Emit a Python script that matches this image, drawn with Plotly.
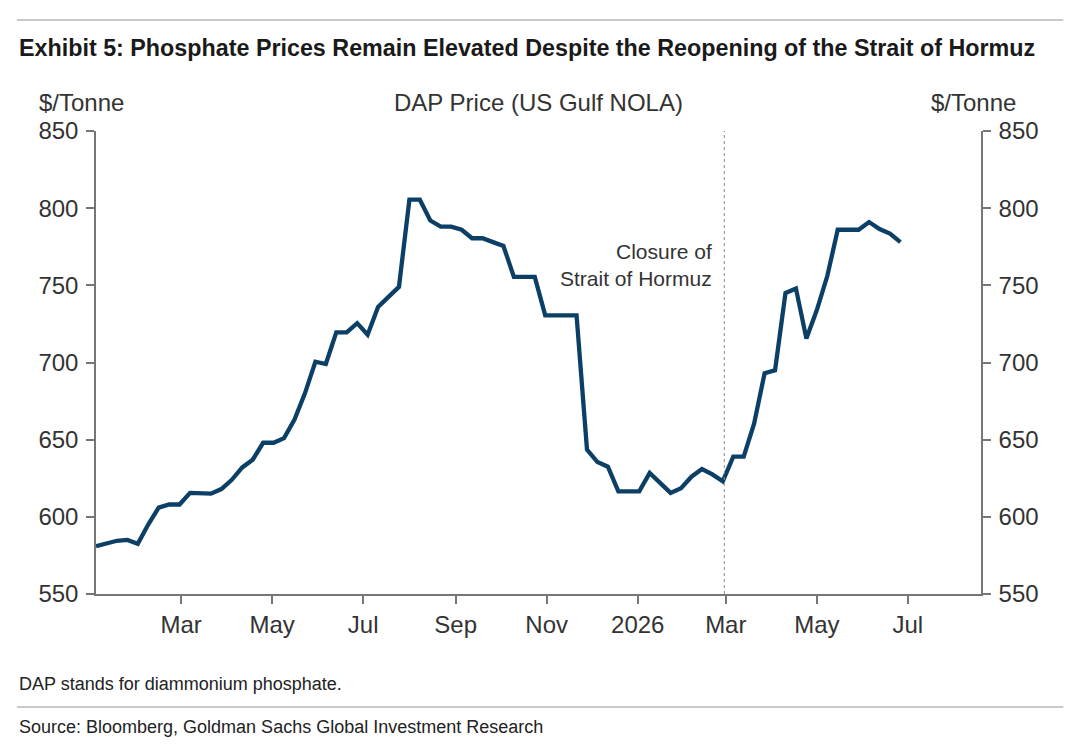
import pandas as pd
import plotly.graph_objects as go

# ---- data ----
start_date = "2025-01-03"
dap_price = [581, 583, 584.5, 585, 582.5, 595, 606, 608, 608, 615.5,
             615, 615, 618, 624, 632, 637, 648, 648, 651, 663,
             680, 700.5, 699, 719.5, 719.5, 725.5, 718, 736, 742.5, 749,
             805.5, 805.5, 792, 788, 788, 786, 780.5, 780.5, 778, 775.5,
             755.5, 755.5, 755.5, 730.5, 730.5, 730.5, 730.5, 643.5, 635.5, 632.5,
             616.5, 616.5, 616.5, 628.5, 621.5, 615.5, 618.5, 626, 631, 627.5,
             623, 639, 639, 660.5, 693, 695, 745, 748, 715.5, 734,
             756, 786, 786, 786, 791, 786.5, 783.5, 778]
dates = pd.date_range(start_date, periods=len(dap_price), freq="7D")

tick_dates = ["2025-03-01", "2025-05-01", "2025-07-01", "2025-09-01", "2025-11-01",
              "2026-01-01", "2026-03-01", "2026-05-01", "2026-07-01"]
tick_labels = ["Mar", "May", "Jul", "Sep", "Nov", "2026", "Mar", "May", "Jul"]
y_ticks = [550, 600, 650, 700, 750, 800, 850]
closure_date = "2026-02-28"
x_range = ["2025-01-03", "2026-08-19"]

title_text = "Exhibit 5: Phosphate Prices Remain Elevated Despite the Reopening of the Strait of Hormuz"
chart_title = "DAP Price (US Gulf NOLA)"
unit_label = "$/Tonne"
note_text = "DAP stands for diammonium phosphate."
source_text = "Source: Bloomberg, Goldman Sachs Global Investment Research"
event_text = "Closure of<br>Strait of Hormuz"

# ---- styling ----
LINE_COLOR = "#0c3f66"
AXIS_COLOR = "#767676"
TEXT_COLOR = "#333333"
CHART_FONT = "Liberation Sans, Arial, sans-serif"
DOC_FONT = "Liberation Sans, Arial, sans-serif"

fig = go.Figure()
fig.add_trace(go.Scatter(x=dates, y=dap_price, mode="lines",
                         line=dict(color=LINE_COLOR, width=4.3),
                         showlegend=False, hoverinfo="x+y"))
# invisible trace to anchor the right-hand axis
fig.add_trace(go.Scatter(x=dates, y=dap_price, mode="lines", yaxis="y2",
                         line=dict(width=0), opacity=0,
                         showlegend=False, hoverinfo="skip"))

axis_common = dict(showline=True, linecolor=AXIS_COLOR, linewidth=1.5,
                   ticks="outside", tickcolor=AXIS_COLOR, ticklen=8, tickwidth=1.5,
                   showgrid=False, zeroline=False,
                   tickfont=dict(family=CHART_FONT, size=24, color=TEXT_COLOR))

fig.update_layout(
    width=1080, height=746,
    margin=dict(l=96, r=99, t=131, b=152),
    paper_bgcolor="white", plot_bgcolor="white",
    xaxis=dict(type="date", range=x_range, tickvals=tick_dates, ticktext=tick_labels,
               ticklabelstandoff=0, **axis_common),
    yaxis=dict(range=[550, 850], tickvals=y_ticks, ticklabelstandoff=3, **axis_common),
    yaxis2=dict(range=[550, 850], tickvals=y_ticks, overlaying="y", side="right",
                ticklabelstandoff=3, **axis_common),
)

# closure line
fig.add_shape(type="line", xref="x", yref="paper", x0=closure_date, x1=closure_date,
              y0=0, y1=1, line=dict(color="#8a8a8a", width=1, dash="dot"))

# separators
for yp in [1.2397, -0.244]:
    fig.add_shape(type="line", xref="paper", yref="paper", x0=-0.0893, x1=1.093,
                  y0=yp, y1=yp, line=dict(color="#c9c9c9", width=2))

ann = []
ann.append(dict(text="<b>" + title_text + "</b>", xref="paper", yref="paper",
                x=-0.0893, y=1.179, xanchor="left", yanchor="middle", showarrow=False,
                font=dict(family=DOC_FONT, size=23.3, color="#1a1a1a")))
ann.append(dict(text=chart_title, xref="paper", yref="paper", x=0.5, y=1.0626,
                xanchor="center", yanchor="middle", showarrow=False,
                font=dict(family=CHART_FONT, size=24, color=TEXT_COLOR)))
ann.append(dict(text=unit_label, xref="paper", yref="paper", x=-0.0667, y=1.0626,
                xanchor="left", yanchor="middle", showarrow=False,
                font=dict(family=CHART_FONT, size=24, color=TEXT_COLOR)))
ann.append(dict(text=unit_label, xref="paper", yref="paper", x=1.0421, y=1.0626,
                xanchor="right", yanchor="middle", showarrow=False,
                font=dict(family=CHART_FONT, size=24, color=TEXT_COLOR)))
ann.append(dict(text=event_text, xref="x", yref="y", x=closure_date, y=763,
                xanchor="right", yanchor="middle", xshift=-10, align="right", showarrow=False,
                font=dict(family=CHART_FONT, size=21, color=TEXT_COLOR)))
ann.append(dict(text=note_text, xref="paper", yref="paper", x=-0.0893, y=-0.194,
                xanchor="left", yanchor="middle", showarrow=False,
                font=dict(family=DOC_FONT, size=18, color="#222222")))
ann.append(dict(text=source_text, xref="paper", yref="paper", x=-0.0893, y=-0.287,
                xanchor="left", yanchor="middle", showarrow=False,
                font=dict(family=DOC_FONT, size=18, color="#222222")))
fig.update_layout(annotations=ann)

fig.write_html("out.html")
